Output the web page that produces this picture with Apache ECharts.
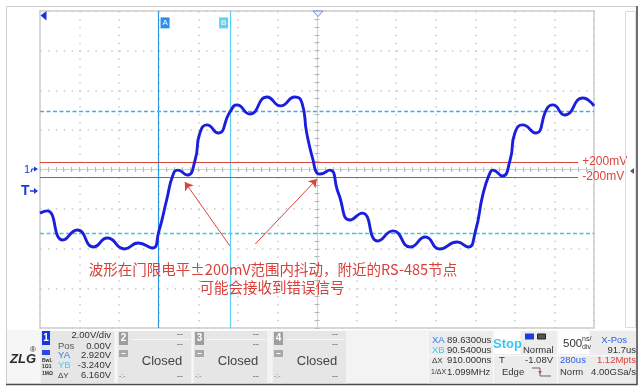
<!DOCTYPE html>
<html><head><meta charset="utf-8">
<script src="https://cdn.jsdelivr.net/npm/echarts@6.0.0/dist/echarts.min.js"></script>
<style>html,body{margin:0;padding:0;background:#fff;}#c{width:644px;height:391px;}</style>
</head><body><div id="c"></div>
<script>
// time (µs, relative to trigger) and voltage (V) of the traced waveform
const times = [-3.5,-3.41,-3.21,-3.03,-2.82,-2.65,-2.43,-2.26,-2.08,-2.0,-1.9,-1.82,-1.76,-1.64,-1.54,-1.48,-1.39,-1.25,-1.1,-1.01,-0.85,-0.63,-0.46,-0.28,-0.19,-0.13,-0.05,0.0,0.04,0.16,0.27,0.42,0.57,0.77,0.96,1.18,1.37,1.55,1.77,1.91,2.0,2.1,2.19,2.22,2.34,2.44,2.5,2.6,2.76,2.91,2.98,3.13,3.36,3.5];
const volts = [-2.2,-2.09,-3.56,-3.05,-3.91,-3.46,-4.01,-3.71,-3.96,-3.15,-1.54,-0.28,-0.03,-0.28,0.48,1.84,2.25,1.84,2.9,3.26,2.8,3.66,3.21,3.66,3.36,1.84,0.48,-0.18,-0.23,-0.03,-1.19,-2.55,-2.2,-3.61,-3.1,-3.91,-3.41,-4.01,-3.66,-3.91,-3.15,-1.19,-0.13,-0.03,-0.33,0.48,1.84,2.25,1.84,3.1,3.26,2.75,3.61,3.21];
// cursors / levels
const cursorA = -2.0, cursorB = -1.09;
const levelYA = 2.92, levelYB = -3.24;
const thrHi = 0.38, thrLo = -0.38;
const thrLabels = ['+200mV', '-200mV'];
const arrowFrom = [[-1.10, -3.86], [-0.78, -3.76]];
const arrowTo = [[-1.67, -0.63], [0.0, -0.48]];
const noteLines = ['波形在门限电平±200mV范围内抖动，附近的RS-485节点', '可能会接收到错误信号'];

const FN = "'Liberation Sans Narrow','Liberation Sans',Arial,sans-serif";
const G = [];
function T(x, y, text, o) {
  o = o || {};
  G.push({type:'text', z:100, style:{text:text, x:x, y:y, fill:o.c||'#333', fontSize:o.s||9.5,
    fontFamily:o.f||FN, fontWeight:o.w||'normal', fontStyle:o.i||'normal',
    align:o.a||'left', verticalAlign:'middle'}});
}
function R(x, y, w, h, fill, stroke, z) {
  G.push({type:'rect', z:z||90, shape:{x:x,y:y,width:w,height:h}, style:{fill:fill||'none', stroke:stroke||'none', lineWidth:1}});
}
function L(pts, stroke, w, z) {
  G.push({type:'polyline', z:z||95, shape:{points:pts}, style:{stroke:stroke, lineWidth:w||1, fill:'none'}});
}
function P(pts, fill, stroke) {
  G.push({type:'polygon', z:100, shape:{points:pts}, style:{fill:fill, stroke:stroke||'none', lineWidth:1}});
}

// outer frame
R(6.5, 6.5, 630.5, 377.5, 'none', '#cfcfcf', 80);
L([[637,6],[637,384.5],[6,384.5]], '#4a4a4a', 1.5, 99);
// right side strip
R(625.5, 11.5, 10, 316, 'none', '#dcdcdc', 80);
P([[630,171],[634,168],[634,174]], '#555');
// bottom panel
R(7, 330, 629.5, 53.5, '#f3f3f3', 'none', 80);
R(7, 330, 33, 53.5, '#f6f6f6', 'none', 81);
const chX = [40, 117, 193, 272];
chX.forEach(function(x){ R(x, 330.5, 75, 53, '#e6e6e6', '#fafafa', 82); });
R(428, 330.5, 209, 53, '#ececec', '#fafafa', 82);
L([[428,355.5],[637,355.5]], '#fafafa', 1);
L([[493.5,330],[493.5,384]], '#fafafa', 1);
L([[557.5,330],[557.5,384]], '#fafafa', 1);

// logo
T(10, 359, 'ZLG', {s:13, w:'bold', i:'italic', c:'#2a2a2a', f:"'Liberation Sans',sans-serif"});
T(30, 350, '®', {s:8, c:'#2a2a2a'});

// channel 1
R(42, 331, 8, 14, '#1535e8', 'none', 95);
T(46, 338.5, '1', {s:10, w:'bold', c:'#fff', a:'center'});
T(58, 346, 'Pos', {c:'#555'});
T(111, 335, '2.00V/div', {a:'right'});
T(111, 346, '0.00V', {a:'right'});
R(42, 350, 8, 5, '#2a48e0', 'none', 95);
T(58, 355.5, 'YA', {c:'#2a7ee8'});
T(111, 355.5, '2.920V', {a:'right'});
T(58, 365.5, 'YB', {c:'#45cdf0'});
T(111, 365.5, '-3.240V', {a:'right'});
T(42, 360.5, 'BwL', {s:5, w:'bold'});
T(42, 367, '1Ω1', {s:5, w:'bold'});
T(42, 374, '1MΩ', {s:5, w:'bold'});
T(58, 375.5, 'ΔY', {s:8});
T(111, 375.5, '6.160V', {a:'right'});

// channels 2..4
['2','3','4'].forEach(function(n, i){
  const x = chX[i+1];
  R(x+2, 332, 9, 13, '#9e9e9e', 'none', 95);
  T(x+6.5, 338.5, n, {s:10, w:'bold', c:'#fff', a:'center'});
  R(x+2, 350, 9, 7, '#a8a8a8', 'none', 95);
  L([[x+4.5,353.5],[x+8.5,353.5]], '#fff', 1, 96);
  L([[x+14,339.5],[x+73,339.5]], '#f8f8f8', 1);
  T(x+66, 334, '--', {a:'right', c:'#666'});
  T(x+66, 344, '--', {a:'right', c:'#666'});
  T(x+45, 361, 'Closed', {s:13, c:'#444', a:'center', f:"'Liberation Sans',sans-serif"});
  T(x+2, 376, '-:-', {s:7, c:'#777'});
  T(x+66, 376, '--', {a:'right', c:'#666'});
});

// measurement block
T(432, 340, 'XA', {c:'#2a7ee8'}); T(447, 340, '89.6300us');
T(432, 350, 'XB', {c:'#45cdf0'}); T(447, 350, '90.5400us');
T(432, 360.5, 'ΔX', {s:8}); T(447, 360.5, '910.000ns');
T(431, 372, '1/ΔX', {s:7}); T(447, 372, '1.099MHz');

// run / trigger block
R(494.5, 331, 26, 23, '#ffffff', 'none', 95);
T(507.5, 344, 'Stop', {s:13, w:'bold', c:'#3cc6f0', a:'center', f:"'Liberation Sans',sans-serif"});
R(525, 333.5, 9, 6, '#1a3de0', 'none', 95);
R(537.5, 334, 8, 5, '#555', '#222', 95);
T(523, 350, 'Normal');
T(499, 360.5, 'T');
T(553, 360.5, '-1.08V', {a:'right'});
T(502, 372.5, 'Edge');
L([[532,368],[540,368],[540,376],[551,376]], '#666', 1);
P([[538,371],[542,371],[540,374]], '#d9463e');

// timebase block
R(558.5, 331, 31, 23, '#ffffff', 'none', 95);
T(563, 344, '500', {s:11.5, f:"'Liberation Sans',sans-serif"});
T(582, 339, 'ns/', {s:7});
T(582, 347, 'div', {s:7});
T(627, 340, 'X-Pos', {a:'right', c:'#2a5ee8'});
T(636, 350, '91.7us', {a:'right'});
T(560, 360.5, '280us', {c:'#2a5ee8'});
T(636, 360.5, '1.12Mpts', {a:'right', c:'#e0403a'});
T(560, 372.5, 'Norm');
T(636, 372.5, '4.00GSa/s', {a:'right'});

// left markers
P([[40.5,15.5],[46.5,11],[46.5,20.5]], '#1a2fe0');
P([[313,11],[323,11],[318,16.5]], '#eef0ff', '#7284e6');
T(27, 170, '1', {s:11, c:'#1f36e0', a:'center', f:"'Liberation Sans',sans-serif"});
L([[31,172],[32,169],[35,169]], '#1f36e0', 1.2);
P([[34,166.5],[38,169],[34,171.5]], '#1f36e0');
T(21, 191, 'T', {s:14, w:'bold', c:'#1f36e0', f:"'Liberation Sans',sans-serif"});
L([[30,191],[35,191]], '#1f36e0', 1.5);
P([[34,188],[38,191],[34,194]], '#1f36e0');

// annotation text
T(273, 269, noteLines[0], {s:14.5, c:'#d8413b', a:'center', f:"'Noto Sans CJK SC',sans-serif"});
T(272, 287.5, noteLines[1], {s:14.5, c:'#d8413b', a:'center', f:"'Noto Sans CJK SC',sans-serif"});

const grid = {left:40, top:11, width:554, height:317, show:true, borderColor:'#d9d9d9', borderWidth:2, backgroundColor:'transparent'};
const dotted = {color:'#c9c9c9', type:[1.5,6.42], width:1.5};
function centerAxis(pos, withSplit) {
  return {type:'value', position:pos,
    axisLabel:{show:false},
    axisLine:{show:true, onZero:true, lineStyle:{color:'#d0d0d0', width:1}},
    axisTick:{show:true, inside:true, length:2.5, lineStyle:{color:'#b8b8b8'}},
    minorTick:{show:true, splitNumber:5, length:2.5, lineStyle:{color:'#b8b8b8'}},
    splitLine:{show:withSplit, lineStyle:dotted}};
}
const xMain = Object.assign(centerAxis('bottom', true), {min:-3.5, max:3.5, interval:0.5});
const xTop = Object.assign(centerAxis('top', false), {min:-3.5, max:3.5, interval:0.5});
const yMain = Object.assign(centerAxis('left', true), {min:-8, max:8, interval:2});
const yRight = Object.assign(centerAxis('right', false), {min:-8, max:8, interval:2});
const option = {
  animation:false,
  grid: grid,
  xAxis: [xMain, xTop],
  yAxis: [yMain, yRight],
  series: [
    {type:'line', z:5, data: times.map(function(t,i){return [t, volts[i]];}),
     smooth:0.55, showSymbol:false, symbol:'none',
     lineStyle:{color:'#1b1fdc', width:2.9}},
    {type:'line', z:3, data:[], silent:true,
     markLine:{silent:true, symbol:'none', animation:false,
       data:[
         {xAxis:cursorA, lineStyle:{color:'#2d96e6', width:1.2, type:'solid'}, label:{show:false}},
         {xAxis:cursorB, lineStyle:{color:'#5cd0f0', width:1.2, type:'solid'}, label:{show:false}},
         {yAxis:levelYA, lineStyle:{color:'#4aa8e2', width:1.3, type:[4,2.5]}, label:{show:false}},
         {yAxis:levelYB, lineStyle:{color:'#3ec8dc', width:1.3, type:[4,2.5]}, label:{show:false}},
         [{coord:[-3.5, thrHi], name:thrLabels[0], lineStyle:{color:'#d9463e', width:1, type:'solid'},
           label:{show:true, position:'end', formatter:'{b}', color:'#d9463e', fontSize:12, distance:4, fontFamily:"'Liberation Sans',sans-serif"}},
          {coord:[3.3, thrHi]}],
         [{coord:[-3.5, thrLo], name:thrLabels[1], lineStyle:{color:'#d9463e', width:1, type:'solid'},
           label:{show:true, position:'end', formatter:'{b}', color:'#d9463e', fontSize:12, distance:4, fontFamily:"'Liberation Sans',sans-serif"}},
          {coord:[3.3, thrLo]}]
       ]},
     markPoint:{silent:true, animation:false,
       data:[
         {coord:[-1.92, 7.4], symbol:'rect', symbolSize:[9,11], itemStyle:{color:'#2f8fe6'},
          label:{show:true, position:'inside', formatter:'A', color:'#fff', fontSize:8}},
         {coord:[-1.18, 7.4], symbol:'rect', symbolSize:[9,11], itemStyle:{color:'#5cd2f2'},
          label:{show:true, position:'inside', formatter:'B', color:'#fff', fontSize:8}}
       ]}},
    {type:'line', z:6, data:[], silent:true,
     markLine:{silent:true, symbol:['none','arrow'], symbolSize:8, animation:false,
       lineStyle:{color:'#d8453e', width:1, type:'solid'}, label:{show:false},
       data: arrowFrom.map(function(a,i){return [{coord:a},{coord:arrowTo[i]}];})}}
  ],
  graphic: G
};
const chart = echarts.init(document.getElementById('c'), null, {renderer:'canvas'});
chart.setOption(option);
</script></body></html>
